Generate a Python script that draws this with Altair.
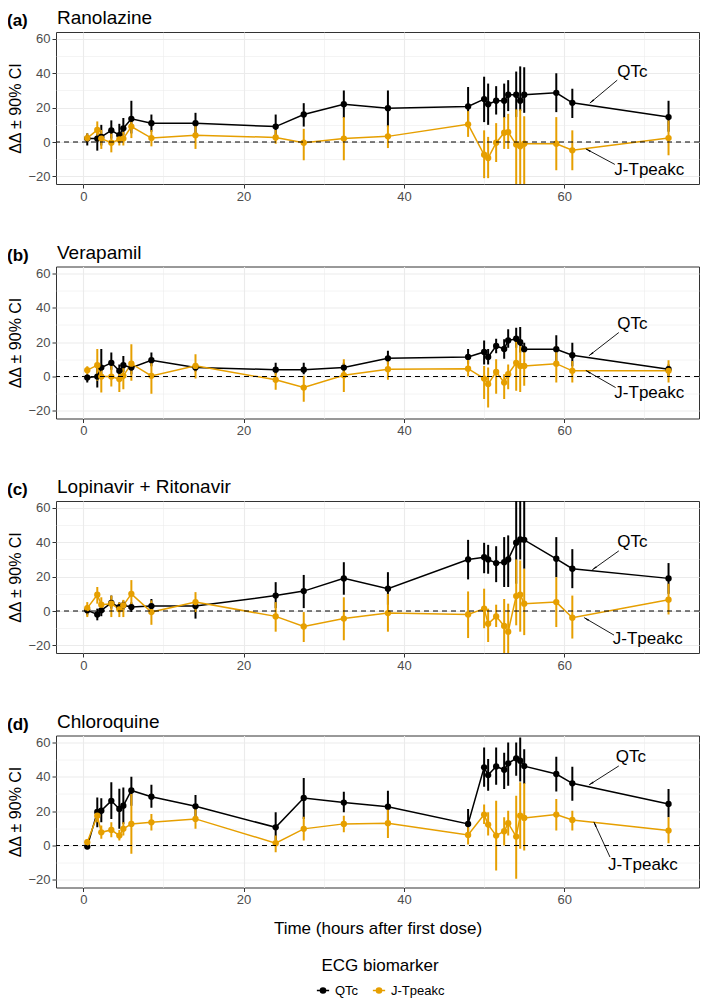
import math
import altair as alt
import pandas as pd

# ---------------- data ----------------
drugs = ["Ranolazine", "Verapamil", "Lopinavir + Ritonavir", "Chloroquine"]
tags = ["(a)", "(b)", "(c)", "(d)"]
series_names = ["QTc", "J-Tpeakc"]
series_colors = ["#000000", "#E69F00"]

times = [0.5, 1.75, 2.25, 3.5, 4.5, 5, 6, 8.5, 14, 24, 27.5, 32.5, 38, 48,
         50, 50.5, 51.5, 52.5, 53, 54, 54.5, 55, 59, 61, 73]

ran_qtc = [2, 2, 3, 6.8, 4, 8, 13.5, 11, 11, 9, 16, 22, 19.7, 20.7, 25, 22, 24, 24, 27.5, 27.5, 24, 27.5, 28.6, 22.8, 14.5]
ran_qtc_lo = [-2, -5, -2, 2, 0, 4, 5, 6, 5, 2, 9, 14, 8.7, 9.7, 11.6, 10, 16, 14, 18, 14.5, 18, 17, 17.4, 14, 6]
ran_qtc_hi = [5, 5, 10, 12.6, 10.6, 14, 24, 16, 17, 16, 22.6, 30, 30, 32, 38, 34, 32.5, 34, 36, 41, 44, 43.5, 40, 31, 24]
ran_jt = [2.3, 7, 2, -0.4, 1.5, 2, 9, 2.3, 3.9, 2.7, -0.4, 2, 3.3, 10.3, -7.4, -9.3, -0.4, 5.4, 5.8, -1.5, -2.5, -1, -1, -4.8, 2.3]
ran_jt_lo = [0, 0.4, -4, -6, -2, -2, 2.3, -2.5, -4, -1, -10.6, -10.6, -3.5, 3, -21, -21, -11.6, -4, -4, -26, -26, -25, -16.4, -16.4, -7.7]
ran_jt_hi = [5, 12, 7, 5, 5, 6, 14.5, 7, 10.6, 7, 7.7, 14.5, 9.7, 18, 6.8, 3, 11, 14.5, 16.4, 19, 19, 15, 14.5, 6.8, 12.6]

ver_qtc = [-0.6, 0, 5.2, 8, 3.3, 6.6, 5.2, 9.5, 5.2, 4, 4, 5.2, 10.6, 11.4, 14.3, 11.4, 17.8, 16, 21, 22, 20, 15.9, 15.9, 12.4, 4.3]
ver_qtc_lo = [-3.5, -6.4, 0.4, 4, -0.6, 2.7, 1.4, 6, 3, 1.4, 1.4, 2.3, 7, 7.5, 7, 7, 13.5, 10.4, 16.8, 16.8, 14, 14, 8, 6, 0.4]
ver_qtc_hi = [1.4, 5, 16, 14, 7, 12, 9, 14, 7.5, 8, 8, 8, 15, 16, 21, 16, 22, 21.7, 27.5, 28.4, 28.8, 19.7, 24, 19.7, 7]
ver_jt = [3.7, 6.6, 0, 0, -1.5, 0.4, 7.5, 0.4, 6.2, -1.9, -6.4, 0.8, 4.3, 4.6, -1.2, -4.4, 2.7, -3.5, 1.4, 8, 6.2, 6.2, 7.5, 3.3, 3.3]
ver_jt_lo = [1.4, -2.5, -9.3, -5.8, -9, -7.4, -2.5, -10, -1.2, -7.7, -14.7, -9, -1.9, 0, -13, -18, -10, -13, -7.4, -8.3, -9, -5.4, -3.5, -3.5, -3.5]
ver_jt_hi = [6, 16, 5, 7, 5, 7, 18.8, 11, 13, 2.3, 0.4, 10, 9, 11, 6.2, 5.2, 10, 1.4, 7, 23.6, 17.8, 16.8, 17.8, 9, 9.5]

lop_qtc = [0.4, -2, 0.4, 4.8, 2.3, 3.3, 2.3, 2.9, 2.9, 9, 11.6, 19, 13, 30, 31.3, 30, 27.9, 28.4, 30, 39.7, 41.6, 41.4, 30.4, 24.6, 19]
lop_qtc_lo = [-2.5, -5.4, -3, 1.4, -0.5, 0.5, -0.5, -1, -4.4, 1.7, 1.7, 9.5, 3.7, 18.4, 22, 21.7, 16.8, 14, 14, 15.9, 30, 24.6, 19.7, 13.3, 10]
lop_qtc_hi = [3.3, 1.4, 3.5, 9, 5, 6, 5, 7, 6, 16.8, 21, 28.4, 22.6, 41.4, 39.7, 38.5, 37.7, 43, 44, 75, 75, 75, 43, 36, 27.9]
lop_jt = [1.7, 9.5, 3.7, 4.3, 1, 3.3, 10, -0.6, 5.2, -3.1, -9, -4.4, -1.2, -2, 1.4, -7.4, -3.1, -8.7, -12, 8.7, 9.5, 4.3, 5.2, -3.9, 6.6]
lop_jt_lo = [-3.5, 4.3, -1, -3.5, -3.5, -3.5, 1.7, -8, -0.6, -12, -18, -17, -12, -15.7, -10, -18, -9.3, -26, -26, -8.3, -12, -14, -9.3, -16, -2]
lop_jt_hi = [5.2, 14, 8, 9, 5, 6.5, 18, 6.2, 11, 5.2, -0.6, 8, 10, 11.4, 13, 1.4, 3.7, 7, 4.3, 30, 29.4, 24.6, 19.7, 9, 15.9]

chl_qtc = [-0.6, 19.5, 20.3, 26, 21.3, 23.2, 32, 28.4, 22.8, 10.6, 27.7, 25, 22.6, 12.6, 45.5, 41, 46, 44.1, 47.8, 50.7, 49.3, 46.2, 41.6, 36.2, 24.2]
chl_qtc_lo = [-2, 10.6, 13.5, 15.5, 9.7, 12.6, 23.2, 22, 16.4, 2.9, 15.5, 19.3, 14.5, 4.8, 34.2, 31.9, 35.4, 32.9, 34.8, 40.6, 37.3, 35.8, 31.5, 26.1, 16.4]
chl_qtc_hi = [1, 28, 27.5, 36.8, 33, 33.8, 40, 35.4, 29.4, 19.3, 39.3, 31.3, 31.9, 21.3, 57, 50.3, 57, 54, 60, 60, 62.9, 56, 51.6, 45.8, 32.9]
chl_jt = [1.9, 17.4, 7.7, 9.1, 5.8, 9.7, 12.6, 13.5, 15.5, 1.4, 9.7, 12.6, 13, 6.2, 18, 12.2, 5.8, 8.3, 13, 5.2, 17.4, 16, 18, 14.9, 8.7]
chl_jt_lo = [0, 13.5, 3.9, 4.8, 2.9, 5.8, -4.8, 8.7, 9.7, -3.9, 2.9, 7.7, 4.4, 0.6, 12.6, 5.8, -14.5, 0, 5.8, -19.3, -1.9, -2.9, 8.7, 8.7, 1.4]
chl_jt_hi = [3.8, 21.3, 11.6, 13.5, 9, 13.5, 30, 18.4, 21.3, 5.8, 16.8, 17.4, 21.3, 10.6, 23.8, 19.3, 26.1, 16.4, 20.3, 29, 36.8, 36.2, 27, 20.3, 16.4]

# annotation label positions (data units) per panel
qtc_lab_x = [68.5, 68.5, 68.5, 68.3]
qtc_lab_y = [40.7, 30.4, 40.1, 51.4]
qtc_tail_x = [66.6, 66.8, 66.8, 66.8]
qtc_tail_y = [36.0, 25.6, 35.0, 46.3]
qtc_tip_x = [63.2, 63.1, 63.5, 63.1]
qtc_tip_y = [22.7, 12.2, 24.0, 35.3]
jt_lab_x = [70.6, 70.6, 70.4, 69.8]
jt_lab_y = [-16.3, -9.3, -16.1, -11.6]
jt_tail_x = [66.3, 66.4, 66.2, 65.7]
jt_tail_y = [-13.0, -6.4, -14.0, -6.7]
jt_tip_x = [62.7, 62.7, 62.5, 63.7]
jt_tip_y = [-4.0, 3.5, -3.9, 13.6]

# ---------------- layout constants ----------------
W, H = 643, 152
XD = [-3.4, 76.8]
YD = [-24.4, 64]
FONT = "Liberation Sans"

table = {
    "Ranolazine": [(ran_qtc, ran_qtc_lo, ran_qtc_hi), (ran_jt, ran_jt_lo, ran_jt_hi)],
    "Verapamil": [(ver_qtc, ver_qtc_lo, ver_qtc_hi), (ver_jt, ver_jt_lo, ver_jt_hi)],
    "Lopinavir + Ritonavir": [(lop_qtc, lop_qtc_lo, lop_qtc_hi), (lop_jt, lop_jt_lo, lop_jt_hi)],
    "Chloroquine": [(chl_qtc, chl_qtc_lo, chl_qtc_hi), (chl_jt, chl_jt_lo, chl_jt_hi)],
}

rows = []
for drug in drugs:
    for s, (m, lo, hi) in zip(series_names, table[drug]):
        for t, a, b, c in zip(times, m, lo, hi):
            rows.append({"drug": drug, "series": s, "t": t, "mean": a, "lo": b, "hi": c})
long_df = pd.DataFrame(rows)

pxx = W / (XD[1] - XD[0])
pxy = H / (YD[1] - YD[0])


def ann_frame(i):
    recs = []
    for lab, lx, ly, ax0, ay0, ax1, ay1 in [
        ("QTc", qtc_lab_x[i], qtc_lab_y[i], qtc_tail_x[i], qtc_tail_y[i], qtc_tip_x[i], qtc_tip_y[i]),
        ("J-Tpeakc", jt_lab_x[i], jt_lab_y[i], jt_tail_x[i], jt_tail_y[i], jt_tip_x[i], jt_tip_y[i]),
    ]:
        dx = (ax1 - ax0) * pxx
        dy = -(ay1 - ay0) * pxy
        L = math.hypot(dx, dy)
        ux, uy = dx / L, dy / L
        ang = math.degrees(math.atan2(dx, -dy)) % 360
        hx = ax1 - 3.0 * ux / pxx
        hy = ay1 + 3.0 * uy / pxy
        recs.append({"lab": lab, "lx": lx, "ly": ly, "tx0": ax0, "ty0": ay0,
                     "tx1": ax1, "ty1": ay1, "hx": hx, "hy": hy, "ang": ang})
    return pd.DataFrame(recs)


major_test = "datum.value % 20 === 0"
grid_w = {"condition": {"test": major_test, "value": 1.1}, "value": 0.55}
tick_op = {"condition": {"test": major_test, "value": 1}, "value": 0}

sym_path = "M-1,0L1,0M0.42,0A0.42,0.42,0,1,1,-0.42,0A0.42,0.42,0,1,1,0.42,0Z"

legend = alt.Legend(
    title="ECG biomarker", orient="none", legendX=260, legendY=925.5,
    direction="horizontal", titleOrient="top", titleAnchor="middle",
    titleFontSize=17, titleFontWeight="normal", titleColor="black", titlePadding=9,
    labelFontSize=13, labelColor="black", labelOffset=5,
    symbolType=sym_path, symbolSize=150, symbolStrokeWidth=1.5,
)
color = alt.Color("series:N", scale=alt.Scale(domain=series_names, range=series_colors), legend=legend)


def panel(i):
    d = long_df[long_df.drug == drugs[i]]
    last = i == 3
    xs = alt.Scale(domain=XD, nice=False, zero=False)
    ys = alt.Scale(domain=YD, nice=False, zero=False)
    xax = alt.Axis(values=list(range(0, 80, 10)), labelExpr=f"{major_test} ? datum.label : ''",
                   title="Time (hours after first dose)" if last else None,
                   gridWidth=grid_w, tickOpacity=tick_op)
    yax = alt.Axis(values=list(range(-20, 70, 10)), labelExpr=f"{major_test} ? datum.label : ''",
                   title="ΔΔ ± 90% CI", gridWidth=grid_w, tickOpacity=tick_op)

    def X(f):
        return alt.X(f, type="quantitative", scale=xs, axis=xax)

    def Y(f):
        return alt.Y(f, type="quantitative", scale=ys, axis=yax)

    bars = alt.Chart(d).mark_rule(strokeWidth=2, clip=True).encode(x=X("t"), y=Y("lo"), y2="hi", color=color)
    lines = alt.Chart(d).mark_line(strokeWidth=1.5, clip=True).encode(
        x=X("t"), y=Y("mean"), color=color, order="t:Q")
    pts = alt.Chart(d).mark_circle(size=40, opacity=1, clip=True).encode(x=X("t"), y=Y("mean"), color=color)
    zero = alt.Chart(pd.DataFrame({"z": [0]})).mark_rule(
        strokeDash=[5, 4], strokeWidth=1.1, color="black").encode(y=Y("z"))
    adf = ann_frame(i)
    arule = alt.Chart(adf).mark_rule(strokeWidth=0.9, color="black").encode(
        x=X("tx0"), y=Y("ty0"), x2="tx1", y2="ty1")
    ahead = alt.Chart(adf).mark_point(shape="wedge", filled=True, size=45, color="black", opacity=1).encode(
        x=X("hx"), y=Y("hy"), angle=alt.Angle("ang:Q", scale=None))
    atext = alt.Chart(adf).mark_text(fontSize=17, color="black", font=FONT).encode(
        x=X("lx"), y=Y("ly"), text="lab:N")
    tag = alt.Chart(pd.DataFrame({"tag": [tags[i]]})).mark_text(
        align="left", baseline="alphabetic", fontSize=17, fontWeight="bold", color="black",
        font=FONT, x=-49, y=-6).encode(text="tag:N")
    ttl = alt.Chart(pd.DataFrame({"drug": [drugs[i]]})).mark_text(
        align="left", baseline="alphabetic", fontSize=19, color="black",
        font=FONT, x=1, y=-8).encode(text="drug:N")
    return alt.layer(bars, lines, pts, zero, arule, ahead, atext, tag, ttl).properties(width=W, height=H)


chart = alt.vconcat(*[panel(i) for i in range(4)], spacing=38.5).properties(
    padding={"left": -2, "top": 0, "right": 0, "bottom": 0}
).configure(font=FONT).configure_view(
    stroke="#333333", strokeWidth=1
).configure_axis(
    domain=False, grid=True, gridColor="#EBEBEB", tickColor="#333333", tickSize=4, tickWidth=1,
    labelFontSize=13, labelColor="#4D4D4D", labelPadding=2, labelFont=FONT,
    titleFontSize=16, titleFontWeight="normal", titleColor="black", titleFont=FONT,
).configure_axisX(titlePadding=14, titleFontSize=17).configure_axisY(titlePadding=4)

chart.save("out.html", embed_options={"renderer": "svg", "actions": False})
